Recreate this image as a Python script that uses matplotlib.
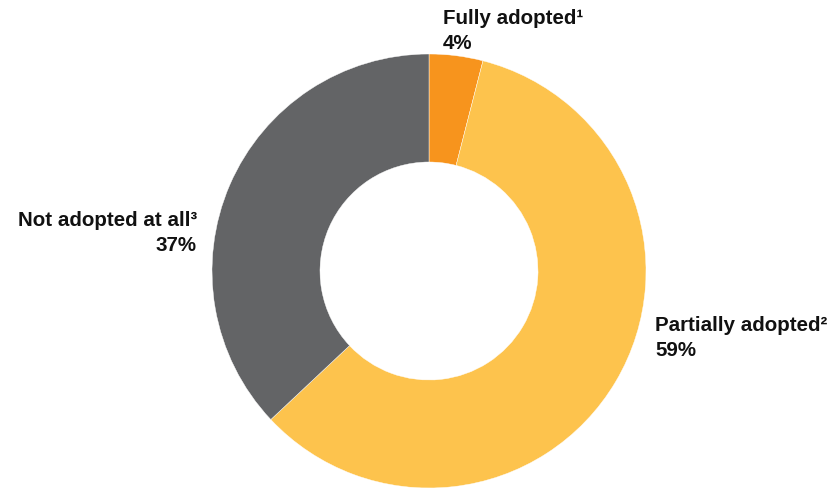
import matplotlib.pyplot as plt

labels = ['Fully adopted\u00b9', 'Partially adopted\u00b2', 'Not adopted at all\u00b3']
shares = [4, 59, 37]
colors = ['#F7941D', '#FDC34D', '#636466']

plt.rcParams['font.family'] = ['Liberation Sans', 'DejaVu Sans']

fig = plt.figure(figsize=(8.32, 4.89), dpi=100)
ax = fig.add_axes([0, 0, 1, 1])

# donut, starting at 12 o'clock and going clockwise
ax.pie(shares, colors=colors, startangle=90, counterclock=False,
       center=(429, 489 - 272), radius=217, frame=True,
       wedgeprops=dict(width=108, edgecolor='white', linewidth=0.3))
ax.set_xlim(0, 832)
ax.set_ylim(0, 489)
ax.axis('off')

# label positions (pixels from top-left) and alignment
spots = [(443, 19, 'left'), (655, 326, 'left'), (197, 221, 'right')]
for lab, val, (x, y, ha) in zip(labels, shares, spots):
    ax.text(x, 489 - y, lab, ha=ha, va='center', fontsize=14.8, fontweight='bold', color='#111111')
    ax.text(x, 489 - y - 25, f'{val}%', ha=ha, va='center', fontsize=14.8, fontweight='bold', color='#111111')

fig.savefig('out.png', dpi=100)
